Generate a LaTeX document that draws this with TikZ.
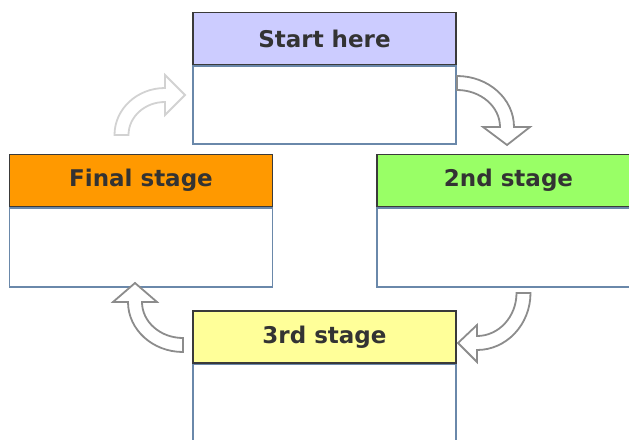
\documentclass[tikz,border=0pt]{standalone}
\usepackage{fontspec}
\setmainfont{DejaVu Sans}
\usepackage{tikz}
\usetikzlibrary{positioning}

\definecolor{hdrblue}{HTML}{CCCCFF}
\definecolor{hdrgreen}{HTML}{99FF66}
\definecolor{hdrorange}{HTML}{FF9900}
\definecolor{hdryellow}{HTML}{FFFF99}
\definecolor{bodyedge}{HTML}{6A88AA}
\definecolor{hdredge}{HTML}{3A3A3A}
\definecolor{txtgray}{HTML}{333333}
\definecolor{arrowgray}{HTML}{8C8C8C}
\definecolor{arrowlight}{HTML}{D2D2D2}

\begin{document}
\begin{tikzpicture}[x=1pt,y=-1pt,semithick]
\tikzstyle{header}=[draw=hdredge,line width=1.1pt,minimum width=263pt,minimum height=52pt,inner sep=0pt,font=\fontsize{23}{26}\selectfont\bfseries,text=txtgray]
  \tikzstyle{stagebody}=[draw=bodyedge,line width=1.6pt,fill=white,minimum width=263pt,inner sep=0pt]
  \tikzstyle{bigarrow}=[draw=arrowgray,line width=1.8pt,fill=white,line join=miter]
%
\useasboundingbox (0,0) rectangle (629,439);
%
\node[header,fill=hdrblue] (start) at (324.5,38.5) {Start here};
  \node[stagebody,minimum height=78pt] (startbody) [below=0pt of start] {};
  \node[header,fill=hdrgreen] (second) at (508.5,180.5) {2nd stage};
  \node[stagebody,minimum height=79pt] (secondbody) [below=0pt of second] {};
  \node[header,fill=hdrorange] (final) at (141,180.5) {Final stage};
  \node[stagebody,minimum height=79pt] (finalbody) [below=0pt of final] {};
  \node[header,fill=hdryellow] (third) at (324.5,337) {3rd stage};
  \node[stagebody,minimum height=90pt] (thirdbody) [below=0pt of third] {};
%
% start -> 2nd
\draw[bigarrow] (457,76) .. controls (488.5,76) and (514,98.8) .. (514,127) -- (530,127) -- (507,145) -- (483,127) -- (500,127) .. controls (500,106.6) and (480.7,90) .. (457,90) -- cycle;
% 2nd -> 3rd
\draw[bigarrow] (516.5,293) -- (530.5,293) .. controls (530.5,324.5) and (506.5,350) .. (477,350) -- (477,362) -- (458,343) -- (477,325) -- (477,336) .. controls (498.8,336) and (516.5,316.7) .. (516.5,293) -- cycle;
% 3rd -> final
\draw[bigarrow] (183,338) -- (183,352) .. controls (152.6,352) and (128,329.6) .. (128,302) -- (113,302) -- (135,283) -- (157,302) -- (142,302) .. controls (142,321.9) and (160.4,338) .. (183,338) -- cycle;
% final -> start
\draw[bigarrow,draw=arrowlight] (128.5,135) -- (114.5,135) .. controls (114.5,109) and (137.1,88) .. (165,88) -- (165,75) -- (185,95) -- (165,115) -- (165,102) .. controls (144.8,102) and (128.5,116.8) .. (128.5,135) -- cycle;
\end{tikzpicture}
\end{document}
